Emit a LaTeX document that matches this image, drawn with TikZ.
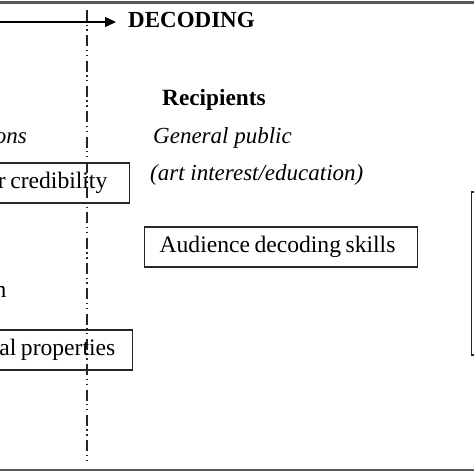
\documentclass[tikz,border=0pt]{standalone}
\usepackage{fontspec}
\setmainfont{Liberation Serif}
\usetikzlibrary{arrows.meta}
\newcommand{\tightsp}{\spaceskip=4.5pt\relax}
\begin{document}
\begin{tikzpicture}[x=1pt,y=1pt,
  txt/.style={inner sep=0pt,font=\fontsize{23pt}{27pt}\selectfont},
  boxnode/.style={draw=black!85,line width=1.3pt,inner ysep=0pt,minimum height=40pt,font=\fontsize{23.6pt}{27pt}\selectfont},
  frameline/.style={draw=black!65,line width=2.6pt},
  divider/.style={draw=black!85,line width=1.5pt,dash pattern=on 11pt off 3.5pt on 1.4pt off 3.5pt on 1.4pt off 4.5pt}
]
\useasboundingbox (0,0) rectangle (474,-474);
\clip (0,0) rectangle (474,-474);
\fill[white] (0,0) rectangle (474,-474);
% frame lines
\coordinate (tl) at (-5,-2.5);
\coordinate (tr) at (480,-2.5);
\coordinate (bl) at (-5,-470);
\coordinate (br) at (480,-470);
\draw[frameline] (tl) -- (tr);
\draw[frameline] (bl) -- (br);
% divider
\coordinate (dtop) at (87,-10);
\coordinate (dbot) at (87,-462);
\draw[divider] (dtop) -- (dbot);
% heading and arrow
\node[txt,font=\fontsize{23pt}{27pt}\selectfont\bfseries,anchor=base west] (dec) at (128,-27) {DECODING};
\coordinate (a0) at (-5,-22);
\draw[line width=1.3pt,-{Triangle[length=11pt,width=10pt]}] (a0) -- ([xshift=-12pt]a0 -| dec.west);
% recipients column
\node[txt,font=\fontsize{23.3pt}{27pt}\selectfont\bfseries,anchor=base west] (rec) at (162,-105) {Recipients};
\node[txt,font=\fontsize{23pt}{27pt}\selectfont\itshape,anchor=base west] (gp) at (153,-143) {General public};
\node[txt,font=\fontsize{23pt}{27pt}\selectfont\itshape,anchor=base west] (art) at (150,-180) {(art interest/education)};
\node[boxnode,anchor=west,text width=243pt,align=left,inner xsep=15pt] (ads) at (144,-247) {\tightsp Audience decoding skills};
% cut-off left column
\node[txt,font=\fontsize{23pt}{27pt}\selectfont\itshape,anchor=base east] (ons) at (27,-143) {ons};
\node[boxnode,anchor=east,text width=130pt,align=right,inner xsep=22pt] (cred) at (130,-183) {\tightsp r credibility};
\node[txt,font=\fontsize{23.6pt}{27pt}\selectfont,anchor=base east] (nn) at (6.5,-297) {n};
\node[boxnode,anchor=east,text width=130pt,align=right,inner xsep=17pt] (prop) at (133,-350) {\tightsp al properties};
% cut-off right box
\node[draw=black!85,line width=1.5pt,anchor=north west,minimum width=30pt,minimum height=163pt,inner sep=0pt] (rbox) at (470.5,-191) {};
\end{tikzpicture}
\end{document}
